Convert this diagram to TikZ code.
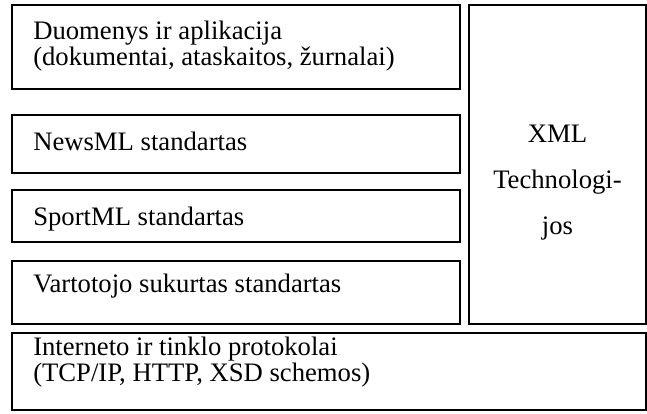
\documentclass[tikz,border=0pt]{standalone}
\usepackage{fontspec}
\setmainfont{Liberation Serif}
\tikzset{
  layer/.style={draw, line width=1.6pt},
  lbl/.style={anchor=base west, inner sep=0pt, align=left, font=\fontsize{20}{17.25}\selectfont},
  side/.style={anchor=base, inner sep=0pt, align=center, font=\fontsize{20}{34.5}\selectfont}
}
\begin{document}
\begin{tikzpicture}[x=0.75pt,y=-0.75pt]
\useasboundingbox (0,0) rectangle (647,414);
% layers on the left
\draw[layer] (12,5) rectangle (460,89);
\draw[layer] (12,115) rectangle (460,173);
\draw[layer] (12,190) rectangle (460,242);
\draw[layer] (12,261) rectangle (460,324);
% XML column and bottom layer
\draw[layer] (469,5) rectangle (646,324);
\draw[layer] (12,333) rectangle (646,410);
\node[lbl] (apps) at (33,65) {Duomenys ir aplikacija\\(dokumentai, ataskaitos, žurnalai)};
\node[lbl] (news) at (33,150) {NewsML standartas};
\node[lbl] (sport) at (33,225) {SportML standartas};
\node[lbl] (user) at (33,292) {Vartotojo sukurtas standartas};
\node[lbl] (net) at (33,381) {Interneto ir tinklo protokolai\\(TCP/IP, HTTP, XSD schemos)};
\node[side] (xml) at (557.5,234) {XML\\Technologi-\\jos};
\end{tikzpicture}
\end{document}
